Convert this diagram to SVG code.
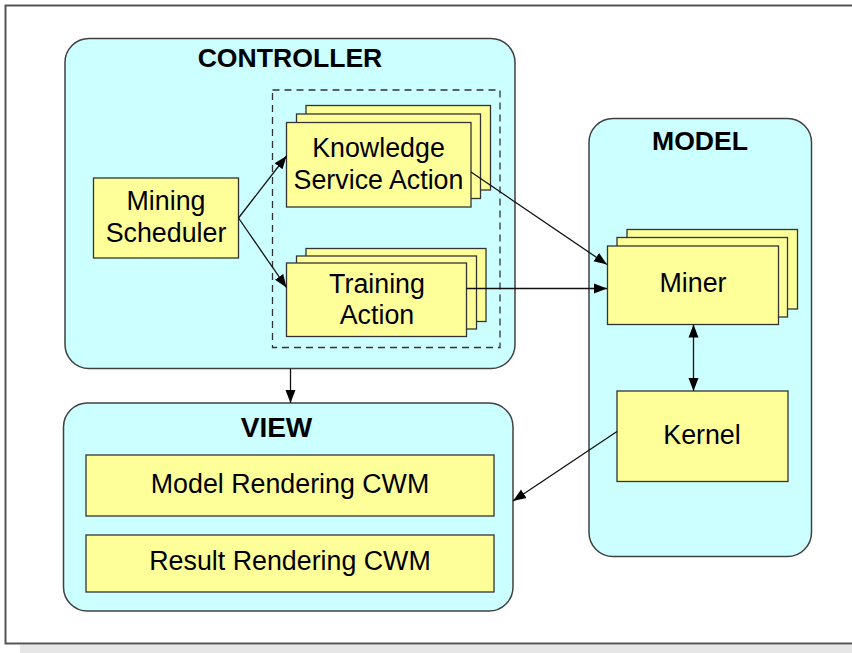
<svg xmlns="http://www.w3.org/2000/svg" width="852" height="653" viewBox="0 0 852 653">
<style>
.pkg{fill:#ccffff;stroke:#404040;stroke-width:1.5}
.box{fill:#ffff99;stroke:#333333;stroke-width:1.3}
.t{font-family:"Liberation Sans",Arial,sans-serif;font-size:26.8px;fill:#000;text-anchor:middle}
.h{font-family:"Liberation Sans",Arial,sans-serif;font-size:26.6px;font-weight:bold;fill:#000;text-anchor:middle}
.c{fill:none;stroke:#111;stroke-width:1.3}
</style>
<defs>
<marker id="ah" markerUnits="userSpaceOnUse" markerWidth="14" markerHeight="12" refX="13" refY="5" orient="auto-start-reverse" viewBox="0 0 14 10">
<path d="M0,0 L13,5 L0,10 Z" fill="#000"/>
</marker>
</defs>
<rect x="0" y="0" width="852" height="653" fill="#ffffff"/>
<rect x="20" y="645" width="832" height="8" fill="#e6e6e6"/>
<path d="M852,5.5 H5.5 V643.5 H852" fill="none" stroke="#555555" stroke-width="2"/>

<g id="controller">
<rect class="pkg" x="65" y="38.5" width="450" height="330" rx="24"/>
<text class="h" x="290" y="66.5">CONTROLLER</text>
<rect x="272.5" y="90" width="227.5" height="257.5" fill="none" stroke="#333" stroke-width="1.3" stroke-dasharray="7,5"/>
</g>
<g id="mining-scheduler">
<rect class="box" x="93.5" y="178" width="145" height="80"/>
<text class="t" x="166" y="210">Mining</text>
<text class="t" x="166" y="241.5">Scheduler</text>
</g>
<g id="knowledge-service-action">
<rect class="box" x="306" y="105.5" width="184.5" height="84.5"/>
<rect class="box" x="296.5" y="114" width="184" height="84.5"/>
<rect class="box" x="286.5" y="122.5" width="184.5" height="84.5"/>
<text class="t" x="378.5" y="157">Knowledge</text>
<text class="t" x="378.5" y="188.5">Service Action</text>
</g>
<g id="training-action">
<rect class="box" x="306" y="248.5" width="180" height="73"/>
<rect class="box" x="296.5" y="256" width="180" height="73"/>
<rect class="box" x="286.5" y="263" width="180" height="73.5"/>
<text class="t" x="377" y="292.5">Training</text>
<text class="t" x="377" y="323.5">Action</text>
</g>

<g id="view">
<rect class="pkg" x="63.5" y="403" width="449.5" height="208" rx="24"/>
<text class="h" x="276.5" y="437" style="font-size:28px">VIEW</text>
</g>
<g id="model-rendering-cwm">
<rect class="box" x="86" y="455" width="408" height="61"/>
<text class="t" x="290" y="493">Model Rendering CWM</text>
</g>
<g id="result-rendering-cwm">
<rect class="box" x="86" y="535" width="408" height="57"/>
<text class="t" x="290" y="570">Result Rendering CWM</text>
</g>

<g id="model">
<rect class="pkg" x="589" y="118.5" width="222.5" height="438" rx="24"/>
<text class="h" x="700" y="150">MODEL</text>
</g>
<g id="miner">
<rect class="box" x="627" y="229.5" width="170.5" height="79.5"/>
<rect class="box" x="617" y="237.5" width="170.5" height="79.5"/>
<rect class="box" x="607.5" y="246" width="171" height="78.5"/>
<text class="t" x="693" y="292">Miner</text>
</g>
<g id="kernel">
<rect class="box" x="617" y="391" width="171" height="90.5"/>
<text class="t" x="702" y="443.5">Kernel</text>
</g>

<g id="connectors">
<line class="c" x1="238.5" y1="218" x2="286.5" y2="156" marker-end="url(#ah)"/>
<line class="c" x1="238.5" y1="218" x2="286.5" y2="287.5" marker-end="url(#ah)"/>
<line class="c" x1="471" y1="172" x2="607" y2="264.5" marker-end="url(#ah)"/>
<line class="c" x1="466.5" y1="288.5" x2="607" y2="288.5" marker-end="url(#ah)"/>
<line class="c" x1="693.5" y1="324.5" x2="693.5" y2="391" marker-start="url(#ah)" marker-end="url(#ah)"/>
<line class="c" x1="617" y1="431.5" x2="513" y2="501" marker-end="url(#ah)"/>
<line class="c" x1="290.5" y1="369" x2="290.5" y2="403" marker-end="url(#ah)"/>
</g>
</svg>
